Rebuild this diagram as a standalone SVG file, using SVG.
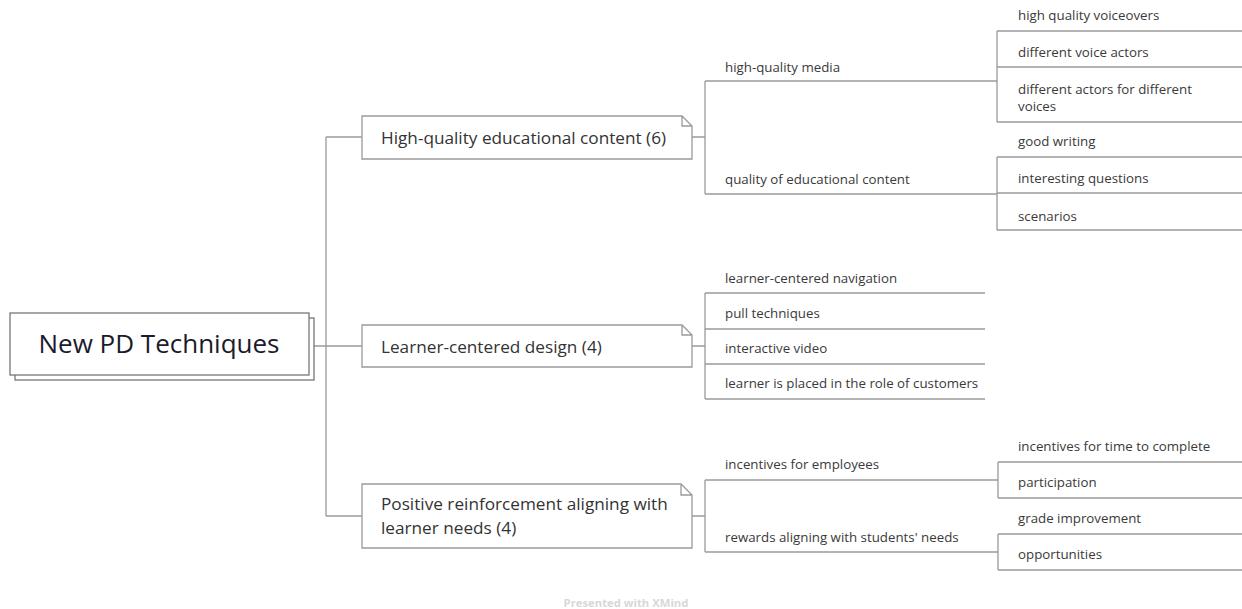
<svg xmlns="http://www.w3.org/2000/svg" width="1242" height="609" viewBox="0 0 1242 609">
<style>
.bg{fill:#ffffff}
.ln{fill:none;stroke:#9a9a9a;stroke-width:1.3}
.box{fill:#ffffff;stroke:#9a9a9a;stroke-width:1.3}
.rootbox{fill:#ffffff;stroke:#777777;stroke-width:1.3}
.t1{font-family:"Open Sans",Lato,sans-serif;font-size:26px;fill:#1b1b2b}
.t2{font-family:"Open Sans",Lato,sans-serif;font-size:17.2px;fill:#333333}
.t3{font-family:"Open Sans",Lato,sans-serif;font-size:13.3px;fill:#3a3a3a}
.ft{font-family:"Open Sans",Lato,sans-serif;font-size:11.3px;font-weight:bold;fill:#d8d8d8}
</style>
<rect class="bg" x="0" y="0" width="1242" height="609"/>
<g id="connectors">
  <path class="ln" d="M314,346 H326 M326,137 V516 M326,137 H362 M326,346 H362 M326,516 H362"/>
  <path class="ln" d="M692,137 H705 M705,81 V194 M705,81 H997 M705,194 H997"/>
  <path class="ln" d="M997,31 V122 M997,157 V230"/>
  <path class="ln" d="M692,346 H705 M705,293 V399"/>
  <path class="ln" d="M692,516 H705 M705,480 V552 M705,480 H998 M705,552 H998"/>
  <path class="ln" d="M998,462 V498 M998,534 V570"/>
</g>
<g id="root">
  <rect class="rootbox" x="15" y="318" width="299" height="62"/>
  <rect class="rootbox" x="10" y="313" width="299" height="62"/>
  <text class="t1" x="159" y="352.5" text-anchor="middle">New PD Techniques</text>
</g>
<g id="n1">
  <path class="box" d="M362,116 H682 L692,126 V159 H362 Z M682,116 V126 H692"/>
  <text class="t2" x="381" y="143.5">High-quality educational content (6)</text>
</g>
<g id="n2">
  <path class="box" d="M362,325 H682 L692,335 V367 H362 Z M682,325 V335 H692"/>
  <text class="t2" x="381" y="352.5">Learner-centered design (4)</text>
</g>
<g id="n3">
  <path class="box" d="M362,484 H681 L692,495 V548 H362 Z M681,484 V495 H692"/>
  <text class="t2" x="381" y="509.5">Positive reinforcement aligning with</text>
  <text class="t2" x="381" y="533.5">learner needs (4)</text>
</g>
<g id="n1a">
  <text class="t3" x="725" y="72">high-quality media</text>
</g>
<g id="n1a1">
  <path class="ln" d="M997,31 H1242"/>
  <text class="t3" x="1018" y="20">high quality voiceovers</text>
</g>
<g id="n1a2">
  <path class="ln" d="M997,67 H1242"/>
  <text class="t3" x="1018" y="57">different voice actors</text>
</g>
<g id="n1a3">
  <path class="ln" d="M997,122 H1242"/>
  <text class="t3" x="1018" y="94">different actors for different</text>
  <text class="t3" x="1018" y="111">voices</text>
</g>
<g id="n1b">
  <text class="t3" x="725" y="184">quality of educational content</text>
</g>
<g id="n1b1">
  <path class="ln" d="M997,157 H1242"/>
  <text class="t3" x="1018" y="146">good writing</text>
</g>
<g id="n1b2">
  <path class="ln" d="M997,193 H1242"/>
  <text class="t3" x="1018" y="183">interesting questions</text>
</g>
<g id="n1b3">
  <path class="ln" d="M997,230 H1242"/>
  <text class="t3" x="1018" y="221">scenarios</text>
</g>
<g id="n2a">
  <path class="ln" d="M705,293 H985"/>
  <text class="t3" x="725" y="283">learner-centered navigation</text>
</g>
<g id="n2b">
  <path class="ln" d="M705,329 H985"/>
  <text class="t3" x="725" y="318">pull techniques</text>
</g>
<g id="n2c">
  <path class="ln" d="M705,364 H985"/>
  <text class="t3" x="725" y="353">interactive video</text>
</g>
<g id="n2d">
  <path class="ln" d="M705,399 H985"/>
  <text class="t3" x="725" y="388">learner is placed in the role of customers</text>
</g>
<g id="n3a">
  <text class="t3" x="725" y="469">incentives for employees</text>
</g>
<g id="n3a1">
  <path class="ln" d="M998,462 H1242"/>
  <text class="t3" x="1018" y="451">incentives for time to complete</text>
</g>
<g id="n3a2">
  <path class="ln" d="M998,498 H1242"/>
  <text class="t3" x="1018" y="487">participation</text>
</g>
<g id="n3b">
  <text class="t3" x="725" y="542">rewards aligning with students' needs</text>
</g>
<g id="n3b1">
  <path class="ln" d="M998,534 H1242"/>
  <text class="t3" x="1018" y="523">grade improvement</text>
</g>
<g id="n3b2">
  <path class="ln" d="M998,570 H1242"/>
  <text class="t3" x="1018" y="559">opportunities</text>
</g>
<g id="footer">
  <text class="ft" x="626" y="607" text-anchor="middle">Presented with XMind</text>
</g>
</svg>
